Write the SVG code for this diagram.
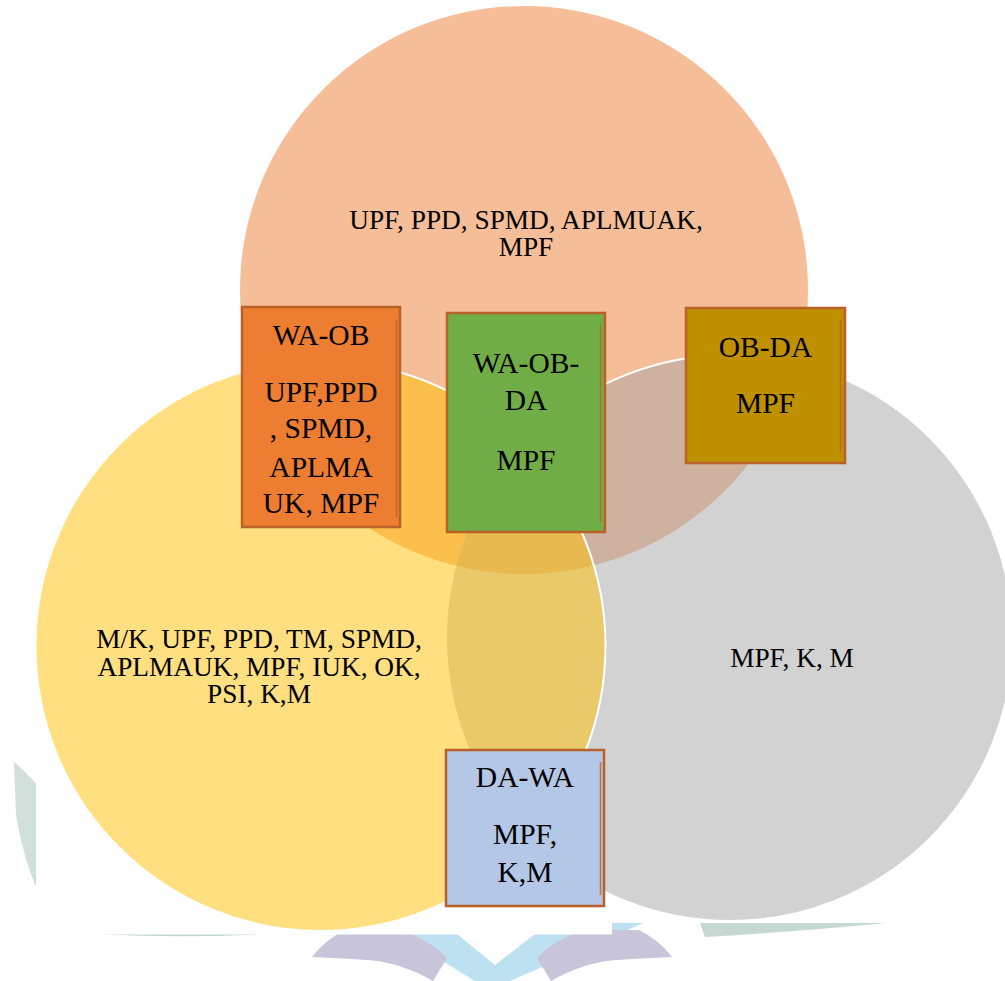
<svg xmlns="http://www.w3.org/2000/svg" width="1005" height="981" viewBox="0 0 1005 981">
  <defs>
    <style>
      .ct { font-size: 27.3px; fill: #000; text-anchor: middle; }
      .bt { font-size: 29.5px; fill: #000; text-anchor: middle; }
      .box { stroke: #BA6128; stroke-width: 2.5; }
      .inner { stroke: #BA6128; stroke-width: 1.5; opacity: 0.8; }
      .wm-teal { fill: #C6D8D2; }
      .wm-purple { fill: #C8C4DA; }
      .wm-blue { fill: #BEE1F1; }
    </style>
    <clipPath id="outsideYellow">
      <path clip-rule="evenodd" d="M0 0H1005V981H0Z M35.5 646a285 285 0 1 0 570 0a285 285 0 1 0 -570 0Z"/>
    </clipPath>
  </defs>
  <rect width="1005" height="981" fill="#FFFFFF"/>

  <!-- watermark (behind the diagram's white background) -->
  <g id="watermark">
    <path class="wm-teal" d="M14 762 Q26 772 40 788 L40 896 Q24 862 16 815 Z" opacity="0.8"/>
    <path class="wm-teal" d="M97 934 Q190 939 280 933 Z"/>
    <path class="wm-teal" d="M700 923 L895 922 Q820 930 705 937 Z"/>
    <path class="wm-blue" d="M392 930 L452 930 L495 965 L540 930 L612 918 L655 918 L510 981 L475 981 Z"/>
    <path class="wm-purple" d="M312 957 Q325 940 345 930 L400 930 Q430 940 447 958 L433 981 Q400 962 367 960 Q335 958 312 957 Z"/>
    <path class="wm-purple" d="M672 957 Q659 940 639 930 L584 930 Q554 940 537 958 L551 981 Q584 962 617 960 Q649 958 672 957 Z"/>
  </g>
  <g id="background-cover" fill="#FFFFFF">
    <rect x="36" y="0" width="576" height="934.5"/>
    <rect x="612" y="0" width="393" height="923"/>
  </g>

  <!-- Venn circles -->
  <g id="circle-OB">
    <circle cx="524" cy="290" r="284" fill="#ED7D31" fill-opacity="0.5"/>
  </g>
  <g id="circle-DA">
    <circle cx="730" cy="638" r="283" fill="#A5A5A5" fill-opacity="0.5"/>
    <circle cx="730" cy="638" r="283" fill="none" stroke="#FFFFFF" stroke-width="2" clip-path="url(#outsideYellow)"/>
  </g>
  <g id="circle-WA">
    <circle cx="320.5" cy="646" r="285" fill="#FFC000" fill-opacity="0.5" stroke="#FFFFFF" stroke-width="2"/>
  </g>

  <g font-family="'Liberation Serif', 'DejaVu Serif', serif">
  <g id="label-OB">
    <text class="ct" x="526" y="229">UPF, PPD, SPMD, APLMUAK,</text>
    <text class="ct" x="526" y="256">MPF</text>
  </g>
  <g id="label-WA">
    <text class="ct" x="259" y="648">M/K, UPF, PPD, TM, SPMD,</text>
    <text class="ct" x="259" y="676">APLMAUK, MPF, IUK, OK,</text>
    <text class="ct" x="259" y="703">PSI, K,M</text>
  </g>
  <g id="label-DA">
    <text class="ct" x="792" y="667">MPF, K, M</text>
  </g>

  <!-- intersection boxes -->
  <g id="box-WA-OB">
    <rect class="box" x="242" y="307" width="158" height="220" fill="#ED7D31"/>
    <line class="inner" x1="396.5" y1="320" x2="396.5" y2="517"/>
    <text class="bt" x="321" y="345">WA-OB</text>
    <text class="bt" x="321" y="402">UPF,PPD</text>
    <text class="bt" x="321" y="438">, SPMD,</text>
    <text class="bt" x="321" y="476.5">APLMA</text>
    <text class="bt" x="321" y="513">UK, MPF</text>
  </g>
  <g id="box-WA-OB-DA">
    <rect class="box" x="447" y="313" width="158" height="219" fill="#70AD47"/>
    <line class="inner" x1="600.5" y1="325" x2="600.5" y2="522"/>
    <text class="bt" x="526" y="373">WA-OB-</text>
    <text class="bt" x="526" y="410">DA</text>
    <text class="bt" x="526" y="470">MPF</text>
  </g>
  <g id="box-OB-DA">
    <rect class="box" x="686" y="308" width="159" height="155" fill="#BF9000"/>
    <line class="inner" x1="840.5" y1="320" x2="840.5" y2="453"/>
    <text class="bt" x="765.5" y="356.5">OB-DA</text>
    <text class="bt" x="765.5" y="413">MPF</text>
  </g>
  <g id="box-DA-WA">
    <rect class="box" x="446" y="750" width="158" height="156" fill="#B4C7E7"/>
    <line class="inner" x1="600.5" y1="762" x2="600.5" y2="895"/>
    <text class="bt" x="525" y="786.5">DA-WA</text>
    <text class="bt" x="525" y="844">MPF,</text>
    <text class="bt" x="525" y="881.5">K,M</text>
  </g>
  </g>
</svg>
